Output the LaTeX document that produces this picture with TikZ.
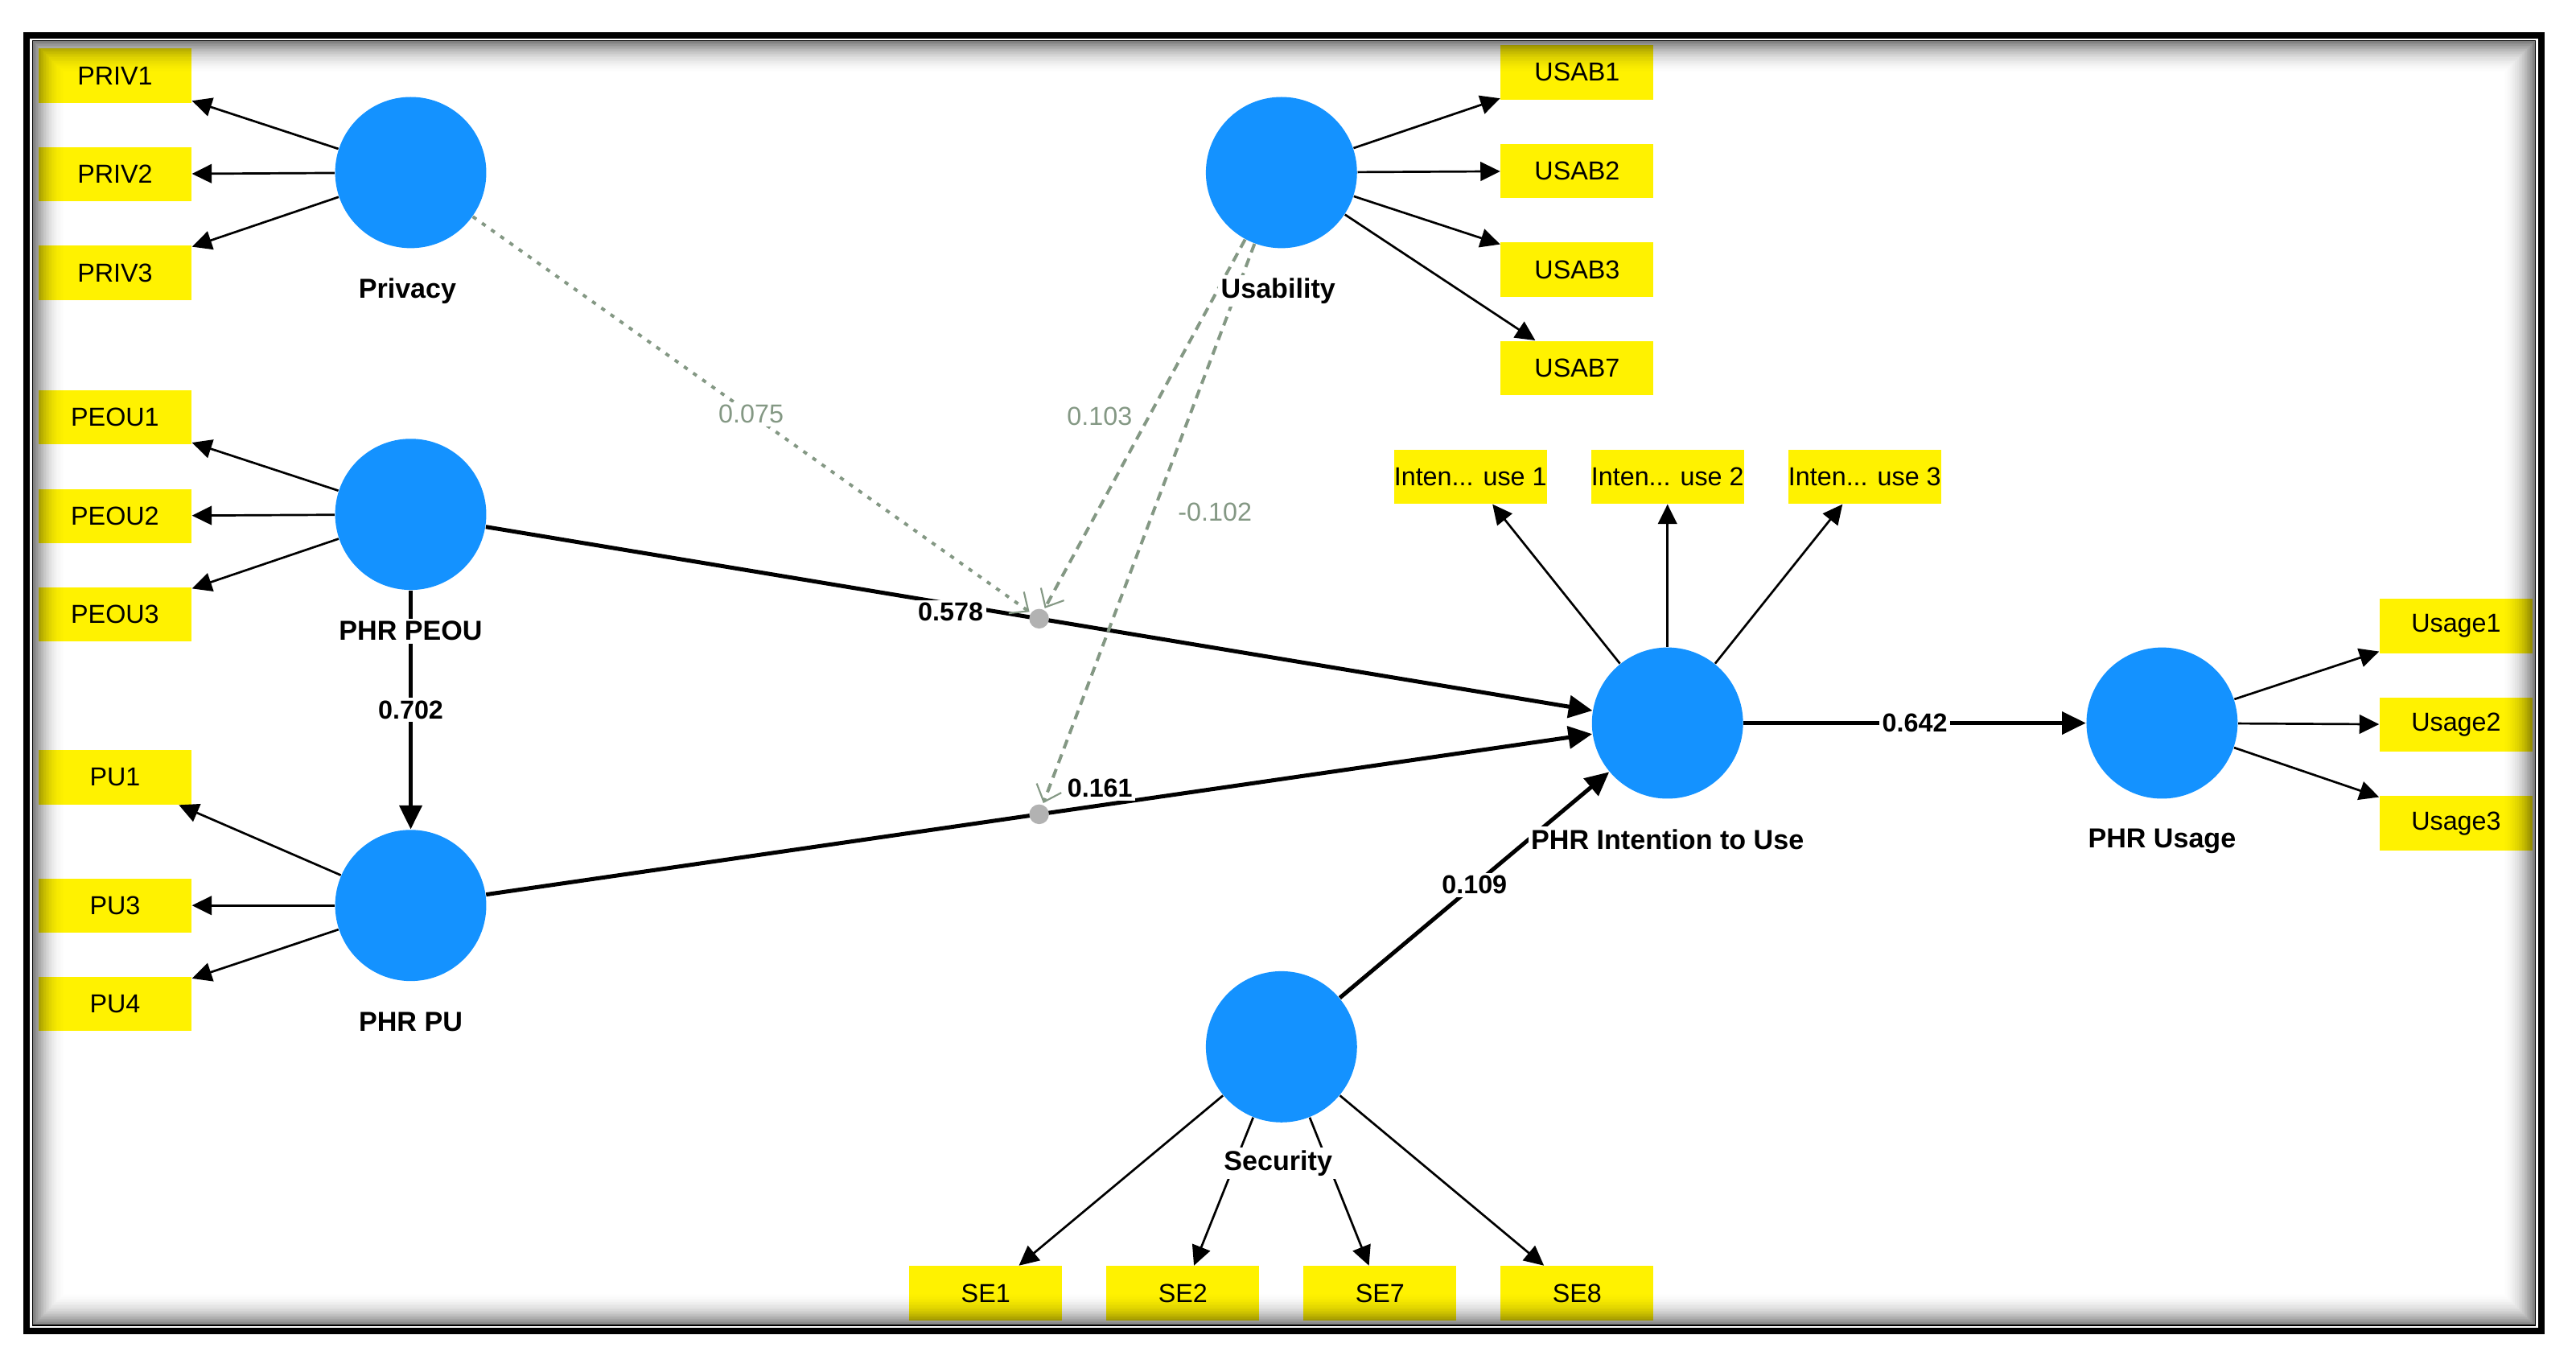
\documentclass[tikz,border=0pt]{standalone}
\usepackage{fontspec}
\setmainfont{Liberation Sans}
\usetikzlibrary{arrows.meta}

\definecolor{lvblue}{RGB}{20,146,255}
\definecolor{modgray}{RGB}{132,152,132}
\definecolor{dotgray}{RGB}{178,178,178}

\tikzset{
  latent/.style={circle,fill=lvblue,minimum size=18.4mm,inner sep=0pt},
  indicator/.style={rectangle,fill=yellow,minimum width=18.6mm,minimum height=6.6mm,inner sep=0pt,font=\fontsize{9}{11}\selectfont},
  conlbl/.style={fill=white,inner sep=1pt,font=\fontsize{9.5}{11}\selectfont\bfseries},
  coef/.style={fill=white,inner sep=1pt,font=\fontsize{9}{11}\selectfont\bfseries},
  modlbl/.style={text=modgray,fill=white,inner sep=1pt,font=\fontsize{9}{11}\selectfont},
  loading/.style={draw,line width=0.75pt,-{Triangle[length=2.4mm,width=2.3mm]}},
  struct/.style={draw,line width=1.4pt,-{Triangle[length=2.9mm,width=2.7mm]}},
  moddot/.style={circle,fill=dotgray,minimum size=2.4mm,inner sep=0pt},
  moddash/.style={draw=modgray,line width=1.1pt,dash pattern=on 3.2pt off 2.2pt,-{Straight Barb[length=1.8mm,width=3.2mm,line width=0.6pt]}},
  moddots/.style={moddash,dash pattern=on 1.5pt off 2.4pt}
}

\begin{document}
\begin{tikzpicture}[x=0.2mm,y=-0.2mm]
  \useasboundingbox (0,0) rectangle (1568,832);

  % frame
  \draw[line width=0.8mm] (16,21.5) rectangle (1547,810);
  \draw[line width=0.15mm] (19.8,24.8) rectangle (1543.2,806.6);

  % constructs
  \node[latent] (Privacy) at (250,105) {};
  \node[latent] (Usability) at (780,105) {};
  \node[latent] (PEOU) at (250,313) {};
  \node[latent] (PU) at (250,551) {};
  \node[latent] (PIU) at (1015,440) {};
  \node[latent] (Usage) at (1316,440) {};
  \node[latent] (Security) at (780,637) {};

  % indicators
  \node[indicator] (PRIV1) at (70,46) {PRIV1};
  \node[indicator] (PRIV2) at (70,106) {PRIV2};
  \node[indicator] (PRIV3) at (70,166) {PRIV3};
  \node[indicator] (PEOU1) at (70,254) {PEOU1};
  \node[indicator] (PEOU2) at (70,314) {PEOU2};
  \node[indicator] (PEOU3) at (70,374) {PEOU3};
  \node[indicator] (PU1) at (70,473) {PU1};
  \node[indicator] (PU3) at (70,551) {PU3};
  \node[indicator] (PU4) at (70,611) {PU4};
  \node[indicator] (USAB1) at (960,44) {USAB1};
  \node[indicator] (USAB2) at (960,104) {USAB2};
  \node[indicator] (USAB3) at (960,164) {USAB3};
  \node[indicator] (USAB7) at (960,224) {USAB7};
  \node[indicator] (IU1) at (895,290) {Inten... use 1};
  \node[indicator] (IU2) at (1015,290) {Inten... use 2};
  \node[indicator] (IU3) at (1135,290) {Inten... use 3};
  \node[indicator] (USG1) at (1495,381) {Usage1};
  \node[indicator] (USG2) at (1495,441) {Usage2};
  \node[indicator] (USG3) at (1495,501) {Usage3};
  \node[indicator] (SE1) at (600,787) {SE1};
  \node[indicator] (SE2) at (720,787) {SE2};
  \node[indicator] (SE7) at (840,787) {SE7};
  \node[indicator] (SE8) at (960,787) {SE8};

  % outer model
  \path[loading] (Privacy) edge (PRIV1) (Privacy) edge (PRIV2) (Privacy) edge (PRIV3);
  \path[loading] (PEOU) edge (PEOU1) (PEOU) edge (PEOU2) (PEOU) edge (PEOU3);
  \path[loading] (PU) edge (PU1) (PU) edge (PU3) (PU) edge (PU4);
  \path[loading] (Usability) edge (USAB1) (Usability) edge (USAB2)
                 (Usability) edge (USAB3) (Usability) edge (USAB7);
  \path[loading] (PIU) edge (IU1) (PIU) edge (IU2) (PIU) edge (IU3);
  \path[loading] (Usage) edge (USG1) (Usage) edge (USG2) (Usage) edge (USG3);
  \path[loading] (Security) edge (SE1) (Security) edge (SE2)
                 (Security) edge (SE7) (Security) edge (SE8);

  % inner model
  \path[struct] (PEOU) edge node[coef,pos=0.42,yshift=-1mm] {0.578} node[moddot] (M1) {} (PIU)
                (PU) edge node[coef,pos=0.555,above,yshift=1pt] {0.161} node[moddot] (M2) {} (PIU);
  \path[struct] (PEOU) edge node[coef] {0.702} (PU)
                (Security) edge node[coef] {0.109} (PIU)
                (PIU) edge node[coef] {0.642} (Usage);

  % moderating effects
  \path[moddots] (Privacy) edge node[modlbl] {0.075} (M1);
  \path[moddash] (Usability) edge node[modlbl,left=1.5mm,pos=0.48] {0.103} (M1)
                 (Usability) edge node[modlbl,right=2.5mm,pos=0.48] {-0.102} (M2);

  % construct labels
  \node[conlbl] (PrivacyL) at (248,177) {Privacy};
  \node[conlbl] (UsabilityL) at (778,177) {Usability};
  \node[conlbl] (PEOUL) at (250,384) {PHR PEOU};
  \node[conlbl] (PUL) at (250,622) {PHR PU};
  \node[conlbl] (PIUL) at (1015,511) {PHR Intention to Use};
  \node[conlbl] (UsageL) at (1316,512) {PHR Usage};
  \node[conlbl] (SecurityL) at (778,708) {Security};

  % inner shadow of the frame
  \foreach \k [evaluate=\k as \op using {0.5*(1-\k/20)^2}] in {0,...,19}
    \draw[line width=0.2mm,draw opacity=\op] (20.5+\k,25.5+\k) rectangle (1542.5-\k,806-\k);
\end{tikzpicture}
\end{document}
